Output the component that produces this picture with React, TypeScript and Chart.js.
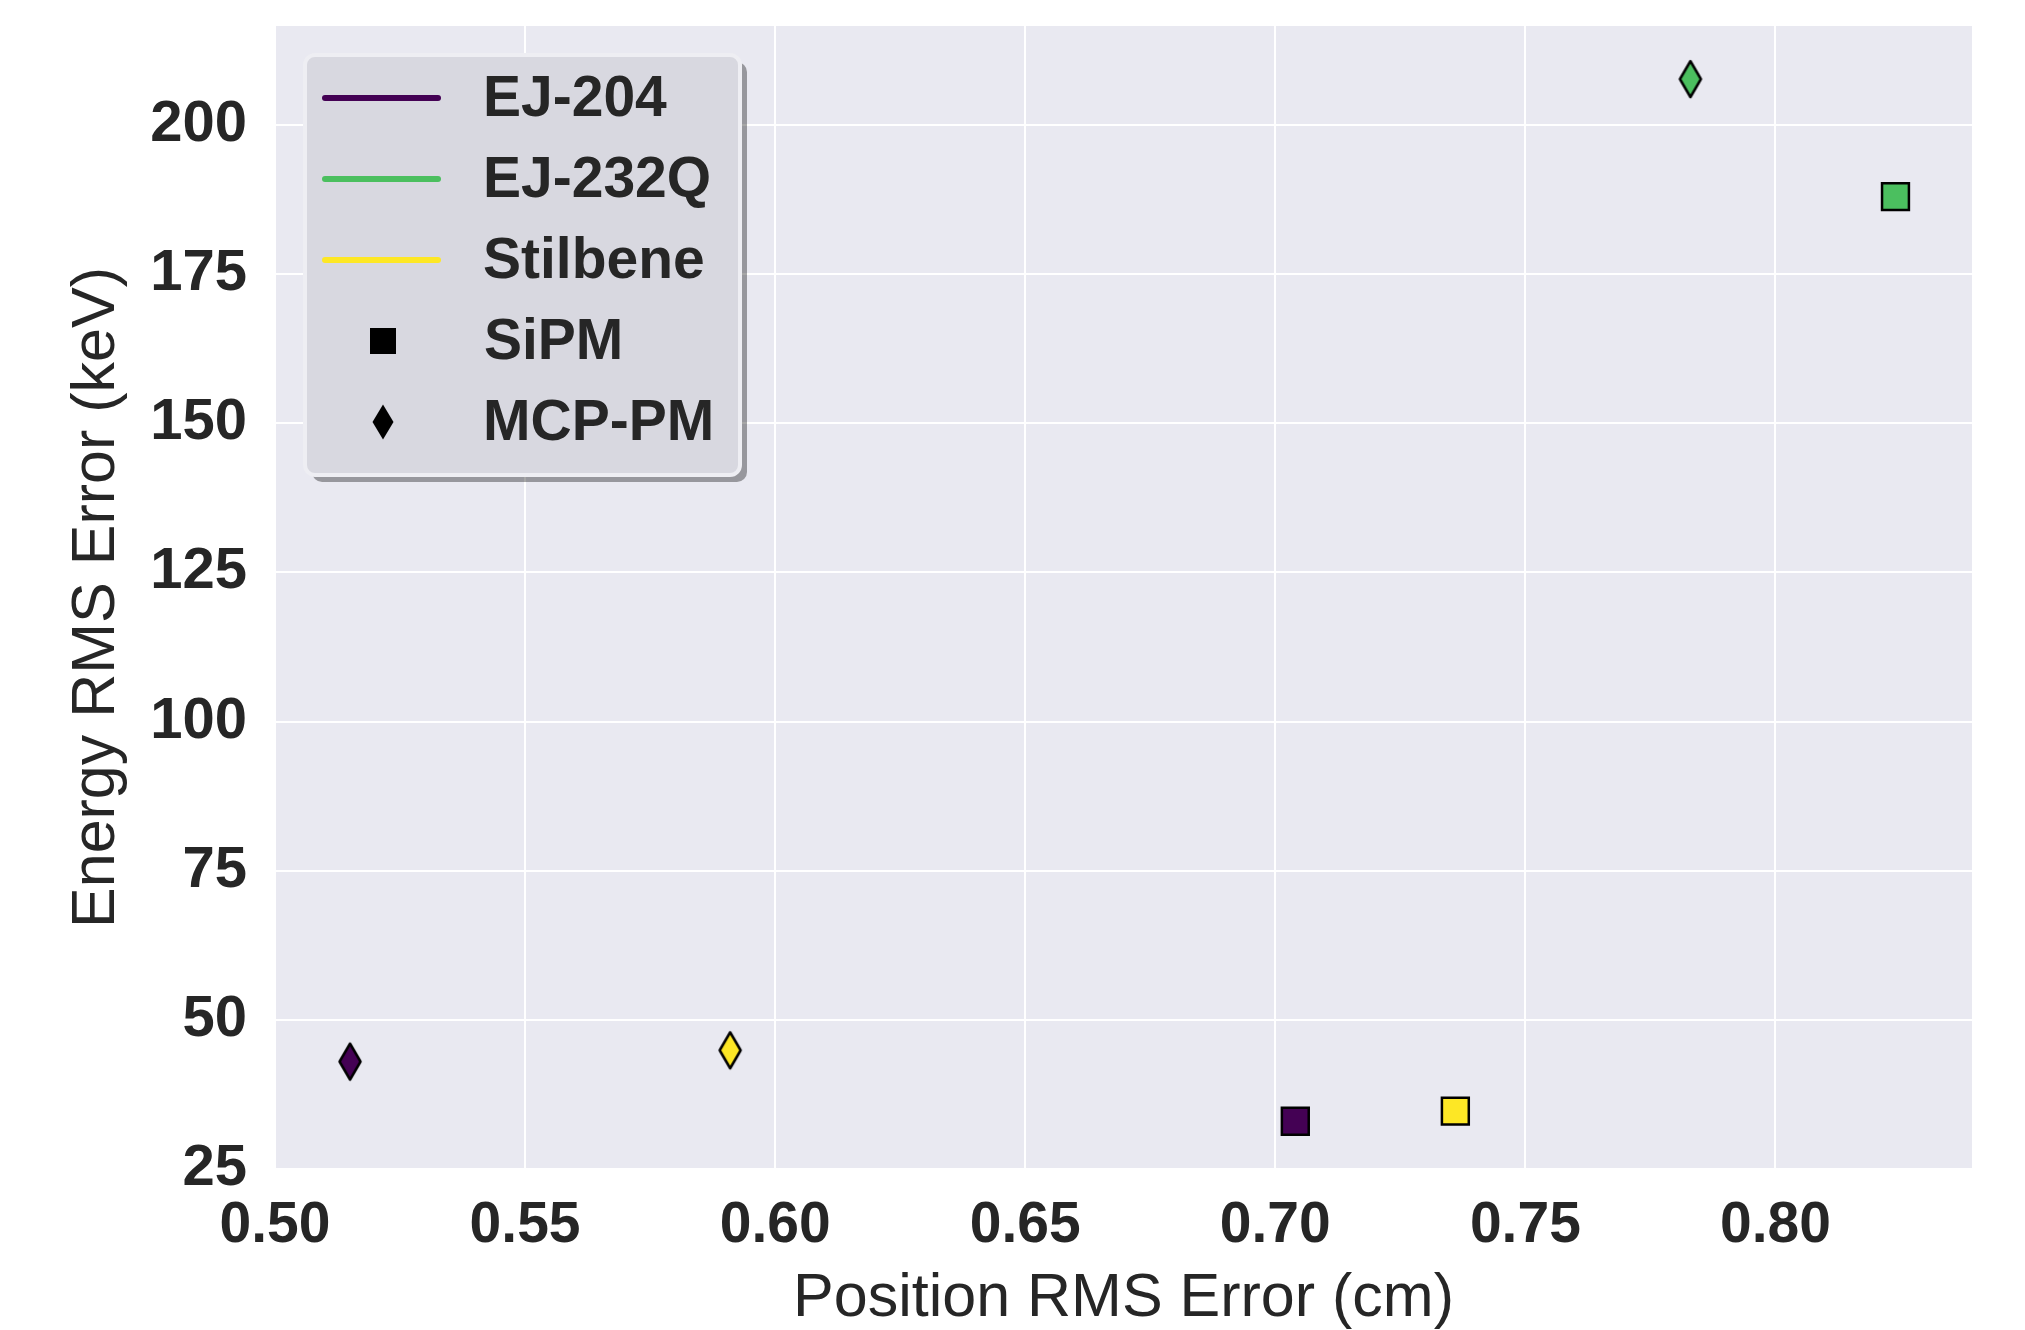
import React, { useEffect, useRef } from 'react';
import { Chart, registerables } from 'chart.js';

Chart.register(...registerables);

// ---- data ----
const materials = ['EJ-204', 'EJ-232Q', 'Stilbene'];
const materialColors = ['#440154', '#4bbf5f', '#fde725'];
const sipmX = [0.704, 0.824, 0.736];
const sipmY = [33.0, 188.0, 34.7];
const mcpX = [0.515, 0.783, 0.591];
const mcpY = [43.0, 207.7, 44.9];
const detectorLabels = ['SiPM', 'MCP-PM'];
const xTicks = [0.5, 0.55, 0.6, 0.65, 0.7, 0.75, 0.8];
const yTicks = [25, 50, 75, 100, 125, 150, 175, 200];
const xRange = [0.5, 0.8393];
const yRange = [25, 216.6];

const FONT = "'Liberation Sans', Arial, sans-serif";
const TEXT = '#262626';
const BG = '#e9e9f1';

function drawDiamond(ctx: CanvasRenderingContext2D, cx: number, cy: number, hw: number, hh: number, fill: string, stroke: string, lw: number) {
  ctx.beginPath();
  ctx.moveTo(cx, cy - hh);
  ctx.lineTo(cx + hw, cy);
  ctx.lineTo(cx, cy + hh);
  ctx.lineTo(cx - hw, cy);
  ctx.closePath();
  ctx.fillStyle = fill;
  ctx.fill();
  if (lw > 0) {
    ctx.lineJoin = 'round';
    ctx.lineWidth = lw;
    ctx.strokeStyle = stroke;
    ctx.stroke();
  }
}

function makeDiamond(color: string): HTMLCanvasElement {
  const c = document.createElement('canvas');
  c.width = 30;
  c.height = 44;
  const ctx = c.getContext('2d')!;
  drawDiamond(ctx, 15, 22, 10.5, 18, color, '#000000', 2.5);
  return c;
}

const bgPlugin = {
  id: 'plotBg',
  beforeDraw(chart: any) {
    const { ctx, chartArea } = chart;
    ctx.save();
    ctx.fillStyle = BG;
    ctx.fillRect(chartArea.left, chartArea.top, chartArea.right - chartArea.left, chartArea.bottom - chartArea.top);
    ctx.restore();
  },
};

const legendPlugin = {
  id: 'boxLegend',
  afterDraw(chart: any) {
    const ctx: CanvasRenderingContext2D = chart.ctx;
    const bx = 305, by = 55, bw = 435, bh = 420, r = 10;
    const roundRect = (x: number, y: number, w: number, h: number) => {
      ctx.beginPath();
      ctx.moveTo(x + r, y);
      ctx.lineTo(x + w - r, y);
      ctx.arcTo(x + w, y, x + w, y + r, r);
      ctx.lineTo(x + w, y + h - r);
      ctx.arcTo(x + w, y + h, x + w - r, y + h, r);
      ctx.lineTo(x + r, y + h);
      ctx.arcTo(x, y + h, x, y + h - r, r);
      ctx.lineTo(x, y + r);
      ctx.arcTo(x, y, x + r, y, r);
      ctx.closePath();
    };
    ctx.save();
    // shadow
    roundRect(bx + 7, by + 7, bw, bh);
    ctx.fillStyle = 'rgba(0,0,0,0.35)';
    ctx.fill();
    // box
    roundRect(bx, by, bw, bh);
    ctx.fillStyle = '#d8d8e0';
    ctx.fill();
    ctx.lineWidth = 4;
    ctx.strokeStyle = '#eeeef3';
    ctx.stroke();

    const rowY = (i: number) => 98 + i * 81;
    ctx.font = `bold 57px ${FONT}`;
    ctx.fillStyle = TEXT;
    ctx.textAlign = 'left';
    ctx.textBaseline = 'middle';
    materials.forEach((name, i) => {
      const y = rowY(i);
      ctx.beginPath();
      ctx.moveTo(325, y);
      ctx.lineTo(438, y);
      ctx.lineWidth = 6;
      ctx.strokeStyle = materialColors[i];
      ctx.lineCap = 'round';
      ctx.stroke();
      ctx.fillStyle = TEXT;
      ctx.fillText(name, 483, y + 2);
    });
    // SiPM square
    const ys = rowY(3);
    ctx.fillStyle = '#000000';
    ctx.fillRect(383 - 13, ys - 13, 26, 26);
    ctx.fillStyle = TEXT;
    ctx.fillText(detectorLabels[0], 484, ys + 2);
    // MCP diamond
    const yd = rowY(4);
    drawDiamond(ctx, 383, yd, 10.5, 17.5, '#000000', '#000000', 0);
    ctx.fillStyle = TEXT;
    ctx.fillText(detectorLabels[1], 483, yd + 2);
    ctx.restore();
  },
};

export default function App() {
  const ref = useRef<HTMLCanvasElement>(null);

  useEffect(() => {
    document.body.style.margin = '0';
    const canvas = ref.current!;
    const diamonds = materialColors.map((c) => makeDiamond(c));
    const chart = new Chart(canvas, {
      type: 'scatter',
      data: {
        datasets: [
          {
            label: 'SiPM',
            data: sipmX.map((x, i) => ({ x, y: sipmY[i] })),
            pointStyle: 'rect',
            pointRadius: 19,
            pointBackgroundColor: materialColors,
            pointBorderColor: '#000000',
            pointBorderWidth: 2.5,
          },
          {
            label: 'MCP-PM',
            data: mcpX.map((x, i) => ({ x, y: mcpY[i] })),
            pointStyle: diamonds as any,
            pointRadius: 19,
            pointBackgroundColor: materialColors,
            pointBorderColor: '#000000',
            pointBorderWidth: 0,
          },
        ],
      },
      options: {
        animation: false,
        responsive: false,
        maintainAspectRatio: false,
        layout: { padding: { top: 26, right: 53, left: 0, bottom: 0 } },
        plugins: { legend: { display: false }, tooltip: { enabled: false } },
        scales: {
          x: {
            type: 'linear',
            min: xRange[0],
            max: xRange[1],
            afterBuildTicks: (s: any) => {
              s.ticks = xTicks.map((v) => ({ value: v }));
            },
            afterFit: (s: any) => {
              s.height = 161;
              s.paddingLeft = 0;
              s.paddingRight = 0;
            },
            grid: { color: '#ffffff', lineWidth: 2, drawTicks: false },
            border: { display: false },
            ticks: {
              padding: 23,
              color: TEXT,
              maxRotation: 0,
              font: { family: FONT, weight: 'bold', size: 57, lineHeight: 1.2 },
              callback: (v: any) => Number(v).toFixed(2),
            },
            title: {
              display: true,
              text: 'Position RMS Error (cm)',
              color: TEXT,
              font: { family: FONT, size: 61, lineHeight: 1 },
              padding: { top: 0, bottom: 0 },
            },
          },
          y: {
            type: 'linear',
            min: yRange[0],
            max: yRange[1],
            afterBuildTicks: (s: any) => {
              s.ticks = yTicks.map((v) => ({ value: v }));
            },
            afterFit: (s: any) => {
              s.width = 275;
              s.paddingTop = 0;
              s.paddingBottom = 0;
            },
            grid: { color: '#ffffff', lineWidth: 2, drawTicks: false },
            border: { display: false },
            ticks: {
              padding: 28,
              color: TEXT,
              font: { family: FONT, weight: 'bold', size: 58, lineHeight: 1.2 },
              callback: (v: any) => String(v),
            },
            title: {
              display: true,
              text: 'Energy RMS Error (keV)',
              color: TEXT,
              font: { family: FONT, size: 61, lineHeight: 1 },
              padding: { top: 67, bottom: 0 },
            },
          },
        },
      },
      plugins: [bgPlugin, legendPlugin],
    });
    return () => chart.destroy();
  }, []);

  return (
    <div style={{ width: 2025, height: 1330, background: '#ffffff' }}>
      <canvas ref={ref} width={2025} height={1330} style={{ display: 'block' }} />
    </div>
  );
}
